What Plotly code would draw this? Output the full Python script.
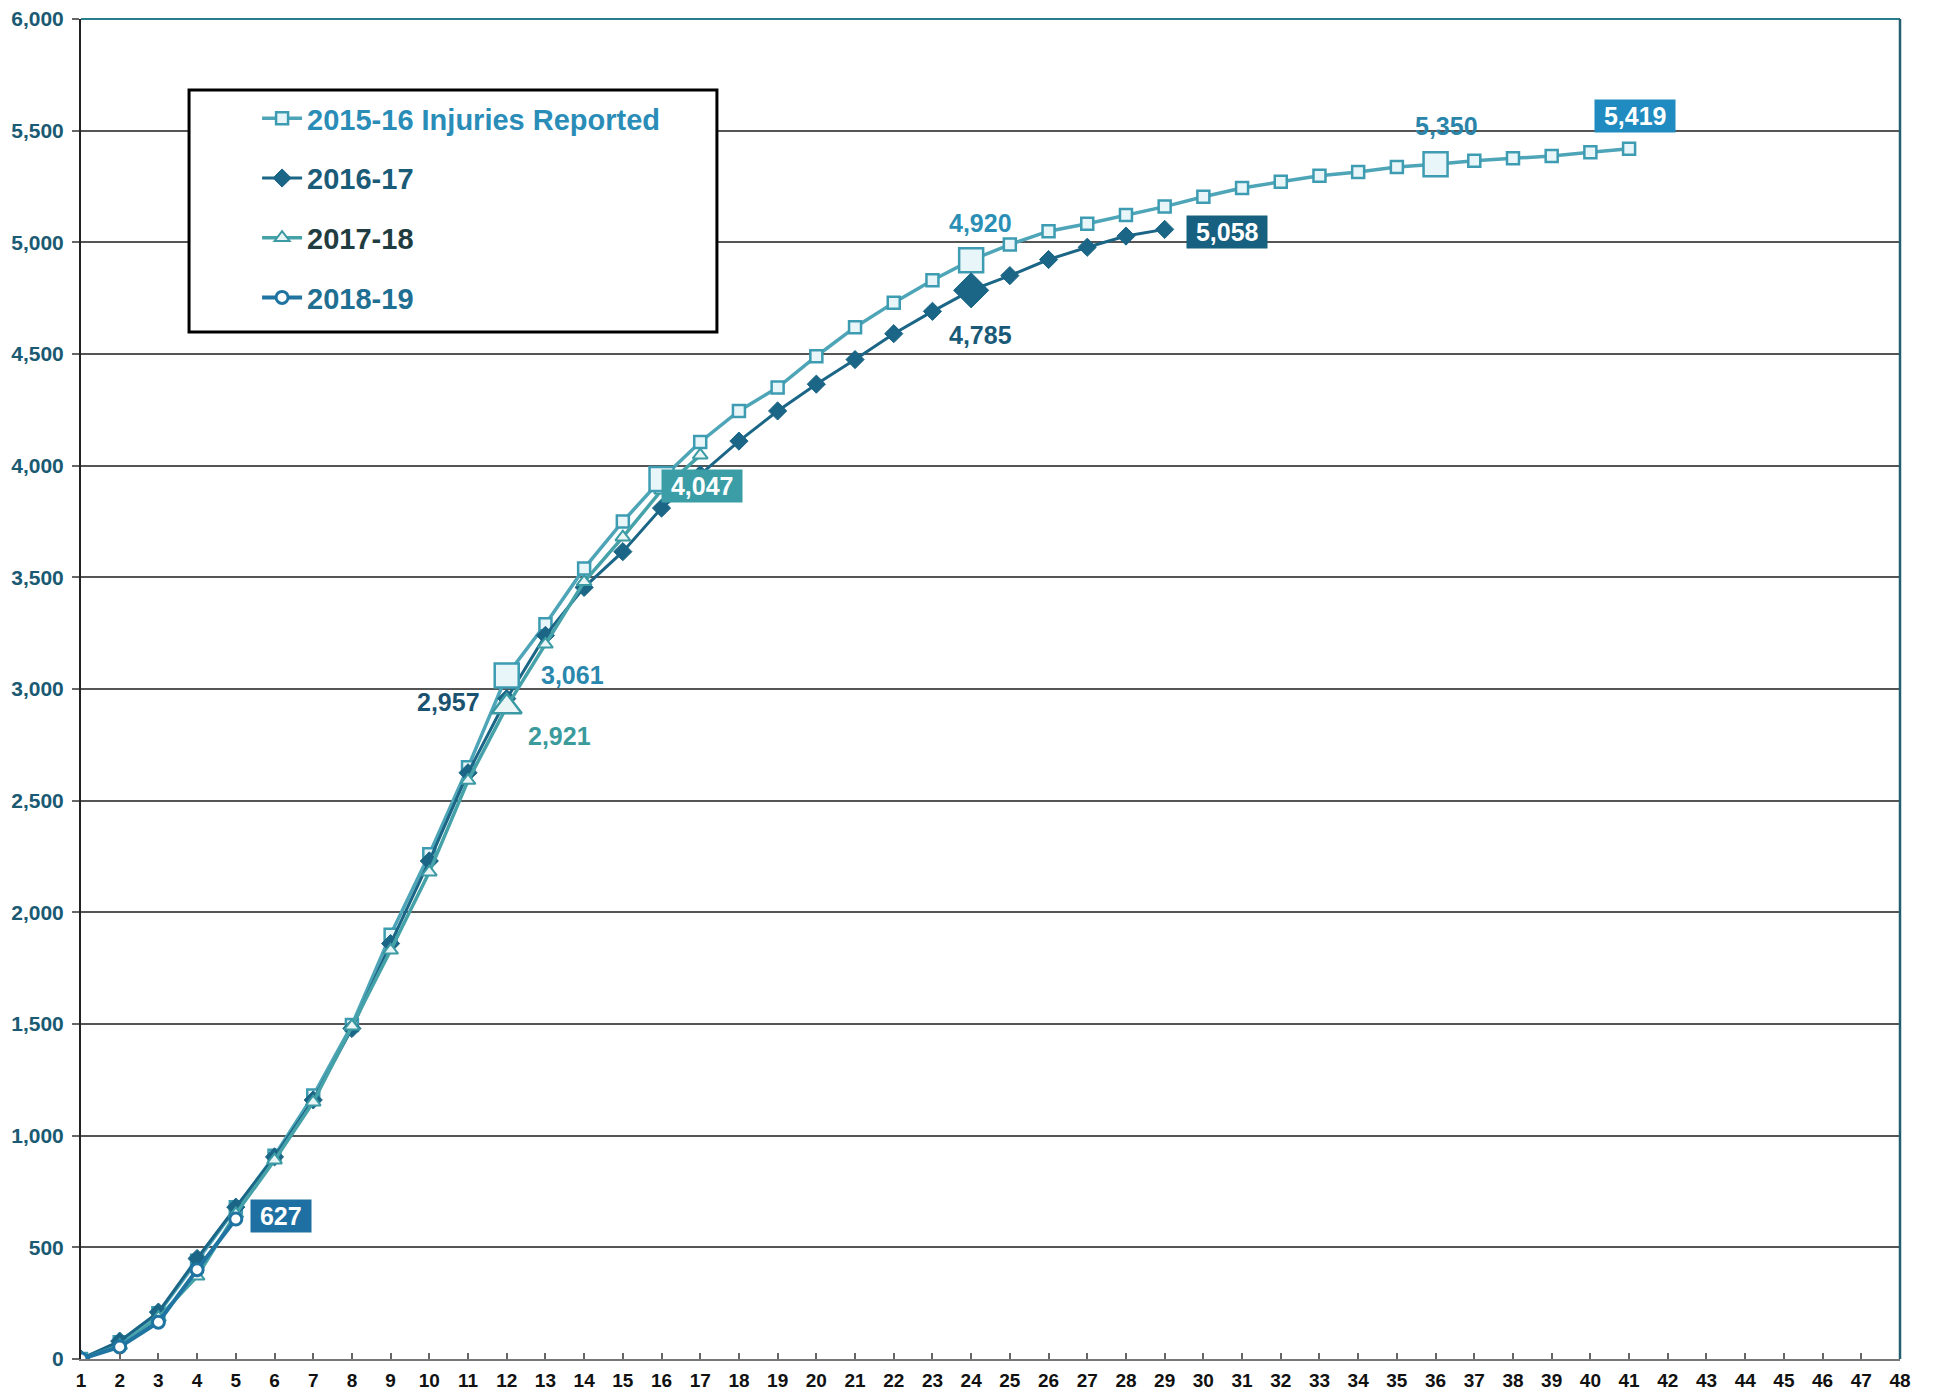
import plotly.graph_objects as go

# ---------------- data ----------------
weeks = list(range(1, 49))
y_ticks = list(range(0, 6001, 500))

season_names = ["2015-16 Injuries Reported", "2016-17", "2017-18", "2018-19"]

inj_1516 = [0, 75, 205, 440, 680, 910, 1180, 1495, 1900, 2260, 2650, 3061, 3290, 3540,
            3750, 3940, 4106, 4245, 4350, 4490, 4620, 4730, 4830, 4920, 4990, 5050, 5083,
            5122, 5160, 5204, 5243, 5271, 5298, 5315, 5337, 5350, 5365, 5376, 5387, 5403, 5419]
inj_1617 = [0, 80, 210, 450, 680, 905, 1160, 1480, 1860, 2230, 2625, 2957, 3240, 3455,
            3615, 3810, 3960, 4110, 4245, 4365, 4475, 4591, 4691, 4785, 4851, 4923, 4978,
            5028, 5058]
inj_1718 = [0, 60, 185, 370, 650, 890, 1150, 1490, 1830, 2180, 2590, 2921, 3200, 3480,
            3680, 3890, 4047]
inj_1819 = [0, 54, 165, 400, 627]

# weeks drawn with an enlarged marker
hl_1516 = [12, 16, 24, 36]
hl_1617 = [24]
hl_1718 = [12]

# ---------------- styles ----------------
FONT = "Liberation Sans, Arial, sans-serif"
c1516, c1516_mk, c1516_fill, c1516_txt = "#4ea5b8", "#3d9cb2", "#e8f6f9", "#2a8db8"
c1617, c1617_txt = "#1b6686", "#1a5b78"
c1718, c1718_mk, c1718_fill, c1718_txt = "#46a2a9", "#3b9aa3", "#eaf6f6", "#1f3c40"
c1819, c1819_txt = "#1f74a2", "#1e6f92"

fig = go.Figure()


def x_of(vals):
    return weeks[:len(vals)]


def legend_name(txt, col):
    return f"<span style='color:{col}'>{txt}</span>"


fig.add_trace(go.Scatter(
    x=x_of(inj_1516), y=inj_1516, mode="lines+markers",
    name=legend_name(season_names[0], c1516_txt), legendgroup="a",
    line=dict(color=c1516, width=3.5),
    marker=dict(symbol="square", size=12, color=c1516_fill, line=dict(color=c1516_mk, width=2.5)),
))
fig.add_trace(go.Scatter(
    x=x_of(inj_1617), y=inj_1617, mode="lines+markers",
    name=legend_name(season_names[1], c1617_txt), legendgroup="b",
    line=dict(color=c1617, width=3),
    marker=dict(symbol="diamond", size=14, color=c1617, line=dict(color=c1617, width=1)),
))
fig.add_trace(go.Scatter(
    x=x_of(inj_1718), y=inj_1718, mode="lines+markers",
    name=legend_name(season_names[2], c1718_txt), legendgroup="c",
    line=dict(color=c1718, width=3.5),
    marker=dict(symbol="triangle-up", size=13, color=c1718_fill, line=dict(color=c1718_mk, width=2)),
))
fig.add_trace(go.Scatter(
    x=x_of(inj_1819), y=inj_1819, mode="lines+markers",
    name=legend_name(season_names[3], c1819_txt), legendgroup="d",
    line=dict(color=c1819, width=4),
    marker=dict(symbol="circle", size=12, color="white", line=dict(color=c1819, width=3)),
))

# enlarged highlight markers
fig.add_trace(go.Scatter(
    x=hl_1516, y=[inj_1516[w - 1] for w in hl_1516], mode="markers", showlegend=False,
    marker=dict(symbol="square", size=24, color=c1516_fill, line=dict(color=c1516_mk, width=2.5)),
))
fig.add_trace(go.Scatter(
    x=hl_1617, y=[inj_1617[w - 1] for w in hl_1617], mode="markers", showlegend=False,
    marker=dict(symbol="diamond", size=27, color=c1617, line=dict(color=c1617, width=1)),
))
fig.add_trace(go.Scatter(
    x=hl_1718, y=[inj_1718[w - 1] for w in hl_1718], mode="markers", showlegend=False,
    marker=dict(symbol="triangle-up", size=26, color=c1718_fill, line=dict(color=c1718_mk, width=2.5)),
))


def fmt(v):
    return f"{v:,}"


def label(week, vals, col, xs, ys, bg=None):
    v = vals[week - 1]
    txt = f"<b>{fmt(v)}</b>"
    if bg:
        txt = f"&nbsp;{txt}&nbsp;"
    d = dict(x=week, y=v, xref="x", yref="y", text=txt, showarrow=False,
             xshift=xs, yshift=ys, font=dict(family=FONT, size=25,
                                             color="white" if bg else col))
    if bg:
        d.update(bgcolor=bg, borderpad=2)
    fig.add_annotation(**d)


label(41, inj_1516, None, 6, 33, bg="#1f8bc0")
label(36, inj_1516, "#2a85ab", 11, 38)
label(29, inj_1617, None, 62, -3, bg="#17607f")
label(24, inj_1516, "#2b8fb5", 9, 37)
label(24, inj_1617, "#1a5a78", 9, -45)
label(12, inj_1516, "#2a87ad", 66, 0)
label(12, inj_1617, "#1a5270", -58, -3)
label(12, inj_1718, "#3a9a9c", 53, -29)
label(17, inj_1718, None, 2, -31, bg="#3b9ea6")
label(5, inj_1819, None, 45, 3, bg="#1f70a2")

# borders
fig.add_shape(type="line", xref="paper", yref="paper", x0=0, x1=1, y0=1, y1=1,
              line=dict(color="#2a7d8c", width=2))
fig.add_shape(type="line", xref="paper", yref="paper", x0=1, x1=1, y0=0, y1=1,
              line=dict(color="#245f70", width=2.5))
# legend frame
fig.add_shape(type="rect", xref="paper", yref="paper", x0=0.0594, x1=0.3496, y0=0.7664,
              y1=0.9470, line=dict(color="black", width=3), fillcolor="white", layer="above")

fig.update_layout(
    width=1934, height=1393,
    margin=dict(l=73, r=42, t=11, b=42, autoexpand=False),
    paper_bgcolor="white", plot_bgcolor="white",
    font=dict(family=FONT),
    showlegend=True,
    legend=dict(x=0.0968, y=0.9448, xanchor="left", yanchor="top",
                bgcolor="rgba(0,0,0,0)", borderwidth=0,
                font=dict(family=FONT, size=29, weight="bold"),
                tracegroupgap=19, traceorder="grouped", itemwidth=40),
    xaxis=dict(range=[1, 48], tickmode="array", tickvals=weeks, ticktext=[str(w) for w in weeks],
               showgrid=False, zeroline=False, showline=True, linecolor="#777", linewidth=2,
               ticks="inside", ticklen=6, tickcolor="#666", tickwidth=1.5, automargin=False,
               tickfont=dict(family=FONT, size=19, color="#111", weight="bold"),
               ticklabelstandoff=3, ticklabeloverflow="allow"),
    yaxis=dict(range=[0, 6000], tickmode="array", tickvals=y_ticks, automargin=False,
               tickformat=",", showgrid=True, gridcolor="#555", gridwidth=1.5,
               zeroline=False, showline=True, linecolor="#222", linewidth=2,
               ticks="outside", ticklen=7, tickcolor="#666", tickwidth=1.5,
               tickfont=dict(family=FONT, size=21, color="#1b5a73", weight="bold"),
               ticklabelstandoff=4, ticklabeloverflow="allow"),
)

fig.write_html("out.html")
